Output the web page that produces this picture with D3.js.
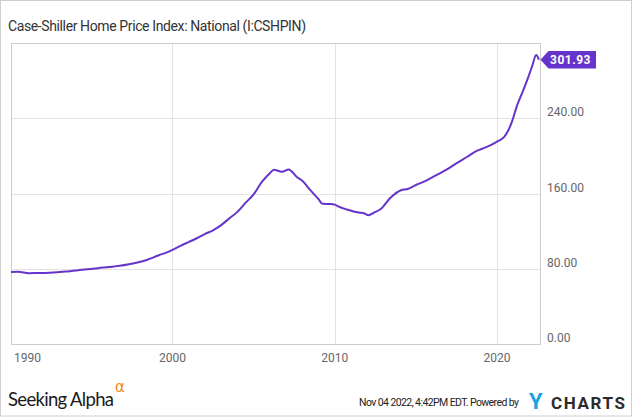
<!DOCTYPE html>
<html>
<head>
<meta charset="utf-8">
<script src="https://cdn.jsdelivr.net/npm/d3@7"></script>
<style>
  html, body { margin: 0; padding: 0; background: #fff; }
  svg { display: block; }
</style>
</head>
<body>
<svg id="chart" width="635" height="417"></svg>
<script>
// ---- Data ----
const title = "Case-Shiller Home Price Index: National (I:CSHPIN)";
const dates = [
  "1990-01","1990-07","1991-03","1991-09","1992-06","1993-06","1994-06","1995-06",
  "1996-06","1997-06","1998-06","1999-03","1999-09","2000-01","2000-07","2001-01",
  "2001-07","2002-01","2002-07","2003-01","2003-07","2004-01","2004-07","2005-01",
  "2005-07","2006-01","2006-04","2006-10","2007-03","2007-09","2008-01","2008-07",
  "2009-01","2009-04","2009-10","2010-01","2010-04","2010-10","2011-03","2011-07",
  "2011-11","2012-02","2012-06","2012-11","2013-06","2014-02","2014-07","2015-01",
  "2015-09","2016-02","2016-07","2016-12","2017-07","2018-03","2018-09","2019-02",
  "2019-08","2020-01","2020-06","2020-09","2020-12","2021-04","2021-08","2021-12",
  "2022-03","2022-06","2022-08"
];
const values = [
  76.8, 76.9, 75.4, 75.6, 76.0, 77.2, 79.0, 80.8,
  82.6, 85.2, 89.5, 94.5, 97.5, 100.2, 104.5, 108.5,
  112.5, 117.0, 121.0, 126.5, 133.5, 140.5, 150.0, 159.0,
  172.0, 181.5, 185.2, 183.0, 185.5, 177.5, 173.5, 163.5,
  154.0, 149.0, 148.8, 148.2, 146.0, 143.0, 141.0, 139.8,
  138.8, 137.0, 139.8, 143.5, 155.2, 163.5, 164.8, 169.0,
  174.0, 178.0, 181.5, 185.5, 192.0, 199.0, 204.5, 207.5,
  211.0, 215.0, 219.5, 226.0, 236.0, 254.0, 268.0, 283.0,
  295.0, 307.0, 301.93
];
const yTicks = [0, 80, 160, 240];
const xTickYears = [1990, 2000, 2010, 2020];
const lastLabel = "301.93";
const footerText = "Nov 04 2022, 4:42PM EDT.  Powered by";

// ---- Layout ----
const svg = d3.select("#chart");
const plot = { left: 11, right: 540.5, top: 42.7, bottom: 344.3 };
const purple = "#6633cc";

const parse = d3.timeParse("%Y-%m");
const data = dates.map((d, i) => ({ date: parse(d), value: values[i] }));

const x = d3.scaleTime()
  .domain([new Date(1990, 0, 19), new Date(2022, 8, 6)])
  .range([plot.left, plot.right]);
const y = d3.scaleLinear()
  .domain([0, 320])
  .range([plot.bottom, plot.top]);

// outer border
svg.append("rect")
  .attr("x", 0.5).attr("y", 0.5).attr("width", 631).attr("height", 415.5)
  .attr("fill", "none").attr("stroke", "#cfcfcf").attr("stroke-width", 1);

// title
svg.append("text")
  .attr("x", 8).attr("y", 31)
  .attr("font-family", "Roboto, sans-serif").attr("font-size", 14)
  .attr("fill", "#333").attr("textLength", 298).text(title);

// gridlines
const grid = svg.append("g");
grid.selectAll(".hg").data(yTicks.filter(v => v > 0)).join("line")
  .attr("x1", plot.left).attr("x2", plot.right)
  .attr("y1", d => Math.round(y(d)) + 0.5).attr("y2", d => Math.round(y(d)) + 0.5)
  .attr("stroke", "#e3e3e3");
grid.selectAll(".vg").data(xTickYears.filter(yr => yr > 1990)).join("line")
  .attr("x1", d => Math.round(x(new Date(d, 0, 1))) + 0.5)
  .attr("x2", d => Math.round(x(new Date(d, 0, 1))) + 0.5)
  .attr("y1", plot.top).attr("y2", plot.bottom)
  .attr("stroke", "#e3e3e3");

// plot frame
svg.append("rect")
  .attr("x", plot.left + 0.5).attr("y", Math.round(plot.top) + 0.5)
  .attr("width", plot.right - plot.left - 0.5)
  .attr("height", Math.round(plot.bottom) - Math.round(plot.top))
  .attr("fill", "none").attr("stroke", "#cccccc");

// y labels
svg.append("g").selectAll("text").data(yTicks).join("text")
  .attr("x", 547).attr("y", d => y(d) - 2)
  .attr("font-family", "Roboto, sans-serif").attr("font-size", 12)
  .attr("fill", "#666").text(d => d3.format(".2f")(d));

// x labels
svg.append("g").selectAll("text").data(xTickYears).join("text")
  .attr("x", d => d === 1990 ? 14 : x(new Date(d, 0, 1)))
  .attr("y", 362)
  .attr("text-anchor", d => d === 1990 ? "start" : "middle")
  .attr("font-family", "Roboto, sans-serif").attr("font-size", 12)
  .attr("fill", "#666").text(d => d);

// line
svg.append("defs").append("clipPath").attr("id", "clip")
  .append("rect").attr("x", plot.left).attr("y", plot.top)
  .attr("width", plot.right - plot.left + 1).attr("height", plot.bottom - plot.top);

const line = d3.line()
  .x(d => x(d.date)).y(d => y(d.value))
  .curve(d3.curveMonotoneX);
svg.append("path").datum(data)
  .attr("clip-path", "url(#clip)")
  .attr("d", line)
  .attr("fill", "none").attr("stroke", purple)
  .attr("stroke-width", 2).attr("stroke-linejoin", "round");

// last value label
const last = data[data.length - 1];
const ly = y(last.value);
const tipX = plot.right;
svg.append("path")
  .attr("d", `M${tipX},${ly} L${tipX + 8},${ly - 8.7} L596,${ly - 8.7} L596,${ly + 8.7} L${tipX + 8},${ly + 8.7} Z`)
  .attr("fill", purple);
svg.append("text")
  .attr("x", 550).attr("y", ly + 4.3)
  .attr("font-family", "Roboto, sans-serif").attr("font-size", 12)
  .attr("font-weight", "bold").attr("letter-spacing", 0.5)
  .attr("fill", "#fff").text(lastLabel);

// Seeking Alpha logo
svg.append("text")
  .attr("x", 8).attr("y", 406)
  .attr("font-family", "Lato, 'Open Sans', sans-serif").attr("font-size", 18.5)
  .attr("fill", "#1a1a1a").attr("textLength", 106).text("Seeking Alpha");
svg.append("text")
  .attr("x", 115).attr("y", 392)
  .attr("font-family", "'DejaVu Sans', sans-serif").attr("font-size", 15)
  .attr("fill", "#f28a17").text("α");

// footer
svg.append("text")
  .attr("x", 359).attr("y", 406)
  .attr("font-family", "Roboto, sans-serif").attr("font-size", 10.5)
  .attr("fill", "#222").attr("textLength", 160).text(footerText);
svg.append("text")
  .attr("x", 529).attr("y", 409)
  .attr("font-family", "Roboto, sans-serif").attr("font-size", 22)
  .attr("font-weight", "bold").attr("fill", "#1aa3e0")
  .attr("textLength", 20).text("Y");
svg.append("text")
  .attr("x", 551).attr("y", 408.5)
  .attr("font-family", "Roboto, sans-serif").attr("font-size", 17)
  .attr("font-weight", "bold").attr("fill", "#2b2b2b")
  .attr("textLength", 74).text("CHARTS");
</script>
</body>
</html>
